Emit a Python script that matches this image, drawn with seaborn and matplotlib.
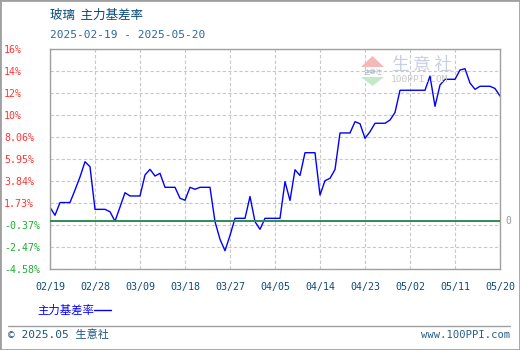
import numpy as np
import pandas as pd
import matplotlib
matplotlib.use("Agg")
import matplotlib.pyplot as plt
import matplotlib.transforms as mtransforms
from matplotlib.lines import Line2D
from matplotlib.patches import Polygon, Rectangle
import seaborn as sns

# ---------------- data ----------------
title_text = "玻璃  主力基差率"
subtitle_text = "2025-02-19 - 2025-05-20"
series_name = "主力基差率"
start_date = "2025-02-19"
end_date = "2025-05-20"
basis_rate = [
    1.36, 0.59, 1.81, 1.81, 1.81, 3.01, 4.26, 5.72, 5.24, 1.16,
    1.16, 1.16, 0.93, 0.02, 1.38, 2.75, 2.44, 2.44, 2.44, 4.45,
    4.99, 4.35, 4.61, 3.27, 3.27, 3.27, 2.22, 2.03, 3.27, 3.08,
    3.27, 3.27, 3.27, -0.02, -1.71, -2.80, -1.34, 0.30, 0.30, 0.30,
    2.39, -0.02, -0.75, 0.30, 0.30, 0.30, 0.30, 3.81, 2.01, 4.95,
    4.40, 6.58, 6.58, 6.58, 2.53, 3.90, 4.13, 4.97, 8.47, 8.47,
    8.47, 9.55, 9.36, 7.96, 8.59, 9.40, 9.40, 9.40, 9.71, 10.43,
    12.56, 12.56, 12.56, 12.56, 12.56, 12.56, 13.92, 11.02, 13.06, 13.61,
    13.61, 13.61, 14.50, 14.62, 13.25, 12.65, 12.94, 12.94, 12.94, 12.73,
    12.01,
]
y_min, y_max = -4.58, 16.48
y_tick_labels = ["-4.58%", "-2.47%", "-0.37%", "1.73%", "3.84%", "5.95%",
                 "8.06%", "10%", "12%", "14%", "16%"]
x_tick_step_days = 9
footer_left = "© 2025.05 生意社"
footer_right = "www.100PPI.com"
watermark_cn = "生 意 社"
watermark_en = "100PPI.COM"

dates = pd.date_range(start_date, periods=len(basis_rate), freq="D")
df = pd.DataFrame({"date": dates, "value": basis_rate})

# ---------------- style ----------------
sns.set_theme(style="white")
plt.rcParams["font.family"] = ["Noto Sans CJK SC", "DejaVu Sans"]
mono = "DejaVu Sans Mono"
cjk = ["Noto Sans CJK SC", "DejaVu Sans"]
mono_cjk = ["DejaVu Sans Mono", "Noto Sans CJK SC"]

W, H = 520, 350
fig = plt.figure(figsize=(W / 100, H / 100), dpi=100)
fig.patch.set_facecolor("white")

def fx(px):
    return px / W

def fy(py):
    return 1 - py / H

ax = fig.add_axes([fx(50), fy(269.3), fx(500) - fx(50), fy(49.3) - fy(269.3)])

sns.lineplot(data=df, x="date", y="value", ax=ax, color="#0000ff",
             linewidth=1.0, label=series_name)
ax.axhline(0, color="#2e8b57", linewidth=1.4, zorder=3)

ax.set_xlim(pd.Timestamp(start_date), pd.Timestamp(end_date))
ax.set_ylim(y_min, y_max)

xticks = pd.date_range(start_date, end_date, freq=f"{x_tick_step_days}D")
ax.set_xticks(xticks)
ax.set_xticklabels([d.strftime("%m/%d") for d in xticks],
                   fontfamily=mono, fontsize=7.2, color="#0f4a78")
yticks = np.linspace(y_min, y_max, len(y_tick_labels))
ax.set_yticks(yticks)
ax.set_yticklabels(y_tick_labels, fontfamily=mono, fontsize=7.2)
for lab, v in zip(ax.get_yticklabels(), yticks):
    lab.set_color("#ff3333" if v > 0 else "#22aa33")
    lab.set_horizontalalignment("left")
ax.tick_params(axis="y", length=0, pad=33)
ax.tick_params(axis="x", length=0, pad=9)
ax.set_xlabel("")
ax.set_ylabel("")

ax.grid(True, color="#c8c8c8", linestyle=(0, (3, 2)), linewidth=0.8)
ax.set_axisbelow(True)
for s in ax.spines.values():
    s.set_color("#a0a0a0")
    s.set_linewidth(1.0)

trans = mtransforms.blended_transform_factory(ax.transAxes, ax.transData)
ax.text(1.012, 0, "0", transform=trans, ha="left", va="center",
        fontfamily=mono, fontsize=7, color="#999999")

leg = ax.legend(loc="center left", bbox_to_anchor=(fx(37), fy(310.7)),
                bbox_transform=fig.transFigure, frameon=False,
                markerfirst=False, handlelength=1.5, handletextpad=0.0,
                borderpad=0, borderaxespad=0, labelcolor="#0000ff",
                prop={"family": cjk, "size": 8.2})

# titles
fig.text(fx(50), fy(15), title_text, ha="left", va="center",
         fontfamily=cjk, fontsize=9, color="#0a4a7a")
fig.text(fx(50), fy(35), subtitle_text, ha="left", va="center",
         fontfamily=mono, fontsize=8, color="#2a6a9a")

# watermark
fig.text(fx(392), fy(65), watermark_cn, ha="left", va="center",
         fontfamily=cjk, fontsize=12.5, color="#c9cee0")
fig.text(fx(391), fy(80), watermark_en, ha="left", va="center",
         fontfamily=mono, fontsize=6.8, color="#c8c8c8")
fig.patches.append(Polygon([[fx(361), fy(67)], [fx(384), fy(67)], [fx(372.5), fy(56)]],
                           closed=True, transform=fig.transFigure,
                           facecolor="#f5b8b8", edgecolor="none"))
fig.patches.append(Polygon([[fx(361), fy(77)], [fx(384), fy(77)], [fx(372.5), fy(86)]],
                           closed=True, transform=fig.transFigure,
                           facecolor="#c2eac6", edgecolor="none"))
fig.text(fx(372.5), fy(72), "生意社", ha="center", va="center",
         fontfamily=cjk, fontsize=4.5, color="#b0b8c8")

# footer
fig.add_artist(Line2D([fx(8), fx(510)], [fy(325.7), fy(325.7)],
                      color="#a0a0a0", linewidth=1.0))
fig.text(fx(8), fy(335), footer_left, ha="left", va="center",
         fontfamily=mono_cjk, fontsize=8, color="#1a5580")
fig.text(fx(510), fy(335), footer_right, ha="right", va="center",
         fontfamily=mono, fontsize=7.6, color="#2a5f8a")

# outer frame
fig.patches.append(Rectangle((0, 0), 1, 1, transform=fig.transFigure,
                             fill=False, edgecolor="#a0a0a0", linewidth=2))

fig.savefig("out.png", dpi=100)
